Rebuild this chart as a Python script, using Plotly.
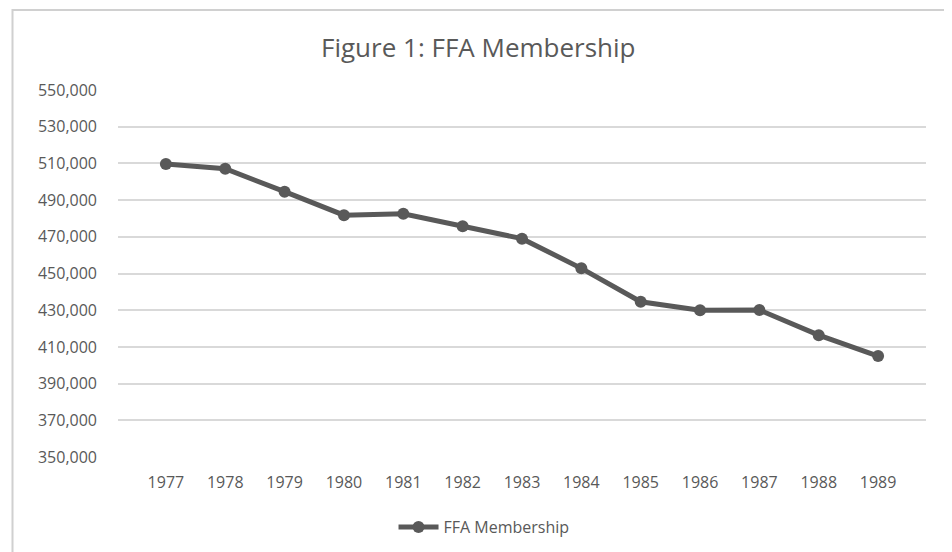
import plotly.graph_objects as go

years = ["1977", "1978", "1979", "1980", "1981", "1982", "1983",
         "1984", "1985", "1986", "1987", "1988", "1989"]
membership = [509735, 507100, 494600, 481800, 482600, 475700, 469000,
              452800, 434600, 430000, 430100, 416400, 405000]
y_ticks = list(range(350000, 550001, 20000))
y_tick_labels = [f"{v:,}" for v in y_ticks]

text_color = "#595959"
font_family = "Open Sans, Noto Sans, sans-serif"

# page body has an 8px margin; layout numbers below compensate for it
L, R, T, B = 110, 34, 82, 103
W, H = 952, 552
plot_w = W - L - R
plot_h = H - T - B

fig = go.Figure()
fig.add_trace(go.Scatter(
    x=years, y=membership, mode="lines+markers",
    name="FFA Membership",
    line=dict(color="#595959", width=5),
    marker=dict(color="#595959", size=12),
))

fig.update_layout(
    width=W, height=H,
    margin=dict(l=L, r=R, t=T, b=B),
    paper_bgcolor="white", plot_bgcolor="white",
    font=dict(family=font_family, color=text_color, size=16),
    title=dict(text="Figure 1: FFA Membership", x=0.494, xanchor="center",
               y=0.927, yanchor="middle",
               font=dict(size=26, color=text_color, family=font_family)),
    showlegend=True,
    legend=dict(orientation="h", x=0.453, xanchor="center", y=-0.191,
                yanchor="middle", font=dict(size=16, color=text_color),
                itemwidth=40),
    xaxis=dict(type="category", showgrid=False, zeroline=False,
               showline=False, ticks="", ticklabelstandoff=14,
               tickfont=dict(size=16, color=text_color)),
    yaxis=dict(range=[350000, 550000], tickvals=y_ticks, ticktext=y_tick_labels,
               showgrid=True, gridcolor="#d9d9d9", gridwidth=1.5,
               zeroline=False, showline=False, ticks="",
               ticklabelstandoff=20,
               tickfont=dict(size=16, color=text_color)),
)

fig.add_shape(type="rect", xref="paper", yref="paper",
              x0=(4.5 - L) / plot_w, x1=(940 - L) / plot_w,
              y0=(H - B - 570) / plot_h, y1=(H - B - 2) / plot_h,
              line=dict(color="#d0d0d0", width=2), fillcolor="rgba(0,0,0,0)",
              layer="below")

fig.write_html("out.html")
